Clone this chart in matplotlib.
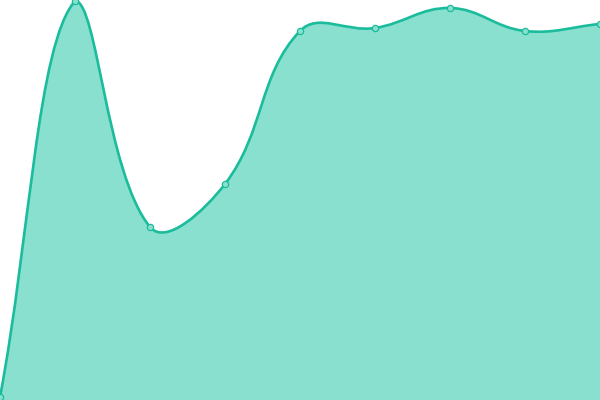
import numpy as np
import matplotlib
matplotlib.use("Agg")
import matplotlib.pyplot as plt
from matplotlib.path import Path
from matplotlib.patches import PathPatch

labels = ["A", "B", "C", "D", "E", "F", "G", "H", "I"]
values = [3, 399, 173, 216, 369, 372, 392, 369, 376]

LINE = "#1abc9c"
FILL = "#89e0cf"

W, H = 600, 400
fig = plt.figure(figsize=(6, 4), dpi=100)
ax = fig.add_axes([0, 0, 1, 1])
n = len(values)
ax.set_xlim(0, n - 1)
ax.set_ylim(0, 400)
ax.axis("off")

# Chart.js-like spline (tension 0.4), computed in pixel space
sx = W / (n - 1)
pts = [(i * sx, v) for i, v in enumerate(values)]
tension = 0.4
ctrl = []
for i in range(n):
    p0 = pts[i - 1] if i > 0 else pts[i]
    p1 = pts[i]
    p2 = pts[i + 1] if i < n - 1 else pts[i]
    d01 = np.hypot(p1[0] - p0[0], p1[1] - p0[1])
    d12 = np.hypot(p2[0] - p1[0], p2[1] - p1[1])
    tot = d01 + d12
    s01 = d01 / tot if tot else 0
    s12 = d12 / tot if tot else 0
    fa = tension * s01
    fb = tension * s12
    prev = (p1[0] - fa * (p2[0] - p0[0]), p1[1] - fa * (p2[1] - p0[1]))
    nxt = (p1[0] + fb * (p2[0] - p0[0]), p1[1] + fb * (p2[1] - p0[1]))
    prev = (min(max(prev[0], 0), W), min(max(prev[1], 0), 400))
    nxt = (min(max(nxt[0], 0), W), min(max(nxt[1], 0), 400))
    ctrl.append((prev, nxt))

def d(p):
    return (p[0] / sx, p[1])

verts = [d(pts[0])]
codes = [Path.MOVETO]
for i in range(n - 1):
    verts += [d(ctrl[i][1]), d(ctrl[i + 1][0]), d(pts[i + 1])]
    codes += [Path.CURVE4] * 3

fill_verts = verts + [(n - 1, 0), (0, 0), verts[0]]
fill_codes = codes + [Path.LINETO, Path.LINETO, Path.CLOSEPOLY]
ax.add_patch(PathPatch(Path(fill_verts, fill_codes), facecolor=FILL, edgecolor="none", zorder=1))
ax.add_patch(PathPatch(Path(verts, codes), facecolor="none", edgecolor=LINE, lw=1.9, zorder=2, capstyle="round", joinstyle="round"))

ax.plot(range(n), values, linestyle="none", marker="o", markersize=4.5,
        markerfacecolor=FILL, markeredgecolor=LINE, markeredgewidth=0.9, zorder=3, clip_on=False)

fig.savefig("out.png", dpi=100)
